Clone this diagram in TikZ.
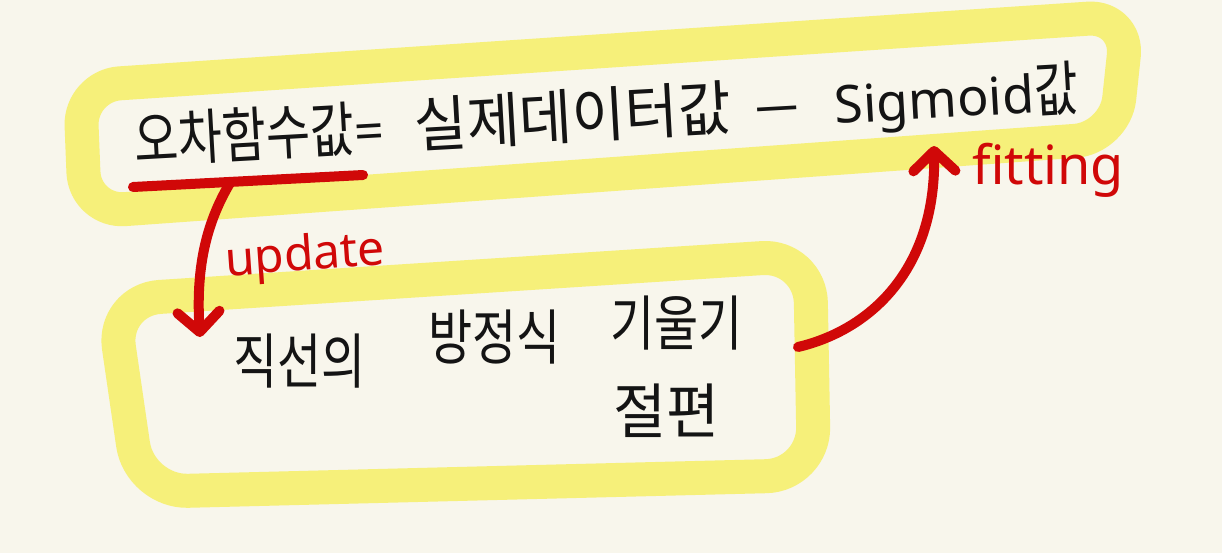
\documentclass[tikz,border=0pt]{standalone}
\usepackage{fontspec}
\usepackage{graphicx}
\usetikzlibrary{arrows.meta}
\newfontfamily\mykor[FakeStretch=0.8]{Noto Sans CJK KR}
\newfontfamily\mykorwide[FakeStretch=0.96]{Noto Sans CJK KR}
\newfontfamily\mylat{Noto Sans}
\newcommand\korbig{\mykor\fontsize{60}{64}\selectfont}
\newcommand\korwide{\mykorwide\fontsize{60}{64}\selectfont}
\newcommand\latbig{\mylat\fontsize{52}{56}\selectfont}
\newcommand\redhand{\mylat\fontsize{48}{52}\selectfont}
\newcommand\redhandb{\mylat\fontsize{54}{58}\selectfont}
\definecolor{bgc}{HTML}{F8F6EC}
\definecolor{hl}{HTML}{F6F07A}
\definecolor{redc}{HTML}{D00808}
\definecolor{ink}{HTML}{141414}
\tikzset{
  hlloop/.style={draw=hl, line width=34pt, line join=round, rounded corners=40pt},
  word/.style={inner sep=0pt, outer sep=0pt, anchor=base west, text=ink, font=\korbig},
  redword/.style={inner sep=0pt, outer sep=0pt, anchor=base west, text=redc, font=\redhand},
  redline/.style={draw=redc, line width=10pt, line cap=round, line join=round},
  redarrow/.style={redline, -{Straight Barb[length=20pt,width=42pt,round]}},
}
\begin{document}
\begin{tikzpicture}[x=1pt,y=-1pt]
\useasboundingbox (0,0) rectangle (1222,553);
\fill[bgc] (0,0) rectangle (1222,553);
% highlight loops
\draw[hlloop] (80,86) -- (1128,16) -- (1115,138) -- (85,212) -- cycle;
\draw[hlloop, rounded corners=48pt] (112,300) -- (810,255) -- (814,475) -- (140,492) -- cycle;
% top formula (rising slightly to the right)
\node[word, rotate=3.2] (eq) at (135,163) {\korbig 오차함수값{\latbig =}\hspace{30pt}{\korwide 실제데이터값}\hspace{22pt}\scalebox{1.6}[1]{\latbig −}\hspace{34pt}{\latbig Sigmoid}값};
% underline
\coordinate (ul1) at (133,187);
\coordinate (ul2) at (363,175);
\draw[redline] (ul1) -- (ul2);
% lower words
\node[word] (line) at (233,383) {직선의};
\node[word] (eqn) at (428,359) {방정식};
\node[word] (slope) at (610,345) {기울기};
\node[word] (icpt) at (613,433) {\korwide 절편};
% red labels
\node[redword, rotate=4] (upd) at (226,276) {update};
\node[redword, font=\redhandb] (fit) at (972,185) {fitting};
% arrows
\coordinate (ustart) at (230,183);
\coordinate (uend) at (200,337);
\draw[redarrow] (ustart) .. controls (205,225) and (196,270) .. (uend);
\coordinate (fstart) at (798,347);
\coordinate (fend) at (934,146);
\draw[redarrow] (fstart) .. controls (870,330) and (936,270) .. (fend);
\end{tikzpicture}
\end{document}
